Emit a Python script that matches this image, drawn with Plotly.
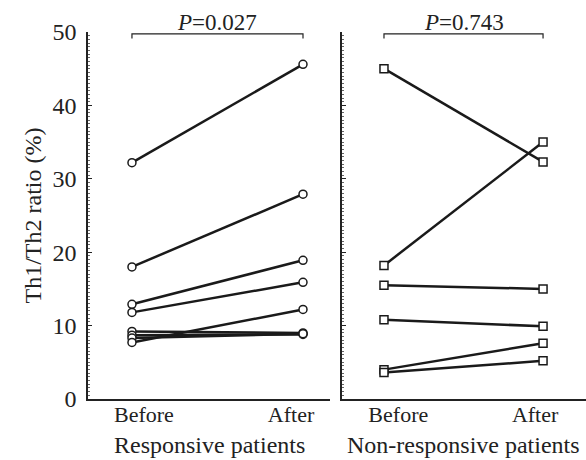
import plotly.graph_objects as go

# Data
groups = ["Before", "After"]
resp_before = [32.2, 18.0, 12.9, 11.8, 9.2, 8.7, 8.3, 7.7]
resp_after = [45.6, 27.9, 18.9, 15.9, 9.0, 8.8, 8.9, 12.2]
nonresp_before = [45.0, 18.2, 15.5, 10.8, 4.0, 3.6]
nonresp_after = [32.3, 35.0, 15.0, 9.9, 7.6, 5.2]
p_texts = ["<i>P</i>=0.027", "<i>P</i>=0.743"]
panel_titles = ["Responsive patients", "Non-responsive patients"]

FONT = "Liberation Serif, Times New Roman, serif"


def paired(before, after):
    xs, ys = [], []
    for b, a in zip(before, after):
        xs += [0, 1, None]
        ys += [b, a, None]
    return xs, ys


fig = go.Figure()

x1, y1 = paired(resp_before, resp_after)
fig.add_trace(go.Scatter(
    x=x1, y=y1, mode="lines+markers", xaxis="x", yaxis="y",
    line=dict(color="#1a1a1a", width=2.5),
    marker=dict(symbol="circle", size=8, color="white",
                line=dict(color="#1a1a1a", width=1.5)),
    showlegend=False, connectgaps=False,
))
x2, y2 = paired(nonresp_before, nonresp_after)
fig.add_trace(go.Scatter(
    x=x2, y=y2, mode="lines+markers", xaxis="x2", yaxis="y2",
    line=dict(color="#1a1a1a", width=2.5),
    marker=dict(symbol="square", size=8, color="white",
                line=dict(color="#1a1a1a", width=1.5)),
    showlegend=False, connectgaps=False,
))

axis_common = dict(showline=True, linecolor="#222", linewidth=1.5,
                   showgrid=False, zeroline=False)
yaxis_common = dict(axis_common, range=[0, 50], tickvals=[0, 10, 20, 30, 40, 50],
                    ticks="inside", ticklen=4, tickcolor="#222", tickwidth=1.2,
                    minor=dict(dtick=0.5, ticks="inside", ticklen=2,
                               tickcolor="#666", tickwidth=1))

fig.update_layout(
    width=586, height=460,
    margin=dict(l=88, r=0, t=32, b=61),
    paper_bgcolor="white", plot_bgcolor="white",
    font=dict(family=FONT, color="#222"),
    xaxis=dict(axis_common, domain=[0, 0.486], range=[-0.257, 1.158],
               tickvals=[0.07, 0.93], ticktext=groups, ticks="",
               tickfont=dict(size=22), ticklabelstandoff=-5),
    xaxis2=dict(axis_common, domain=[0.51, 1.0], range=[-0.264, 1.27],
                tickvals=[0.09, 0.95], ticktext=groups, ticks="",
                tickfont=dict(size=22), anchor="y2", ticklabelstandoff=-5),
    yaxis=dict(yaxis_common, showticklabels=True, tickfont=dict(size=24),
               ticklabelstandoff=5,
               title=dict(text="Th1/Th2 ratio (%)", font=dict(size=24), standoff=4)),
    yaxis2=dict(yaxis_common, showticklabels=False, anchor="x2"),
)

# Panel titles below the category labels
for xref, title in zip(["x domain", "x2 domain"], panel_titles):
    fig.add_annotation(x=0.5, xref=xref, y=-0.125, yref="paper",
                       text=title, showarrow=False, yanchor="middle",
                       font=dict(size=24, family=FONT))

# Brackets with P-values
for xref, txt in zip(["x", "x2"], p_texts):
    fig.add_shape(type="path", xref=xref, yref="paper",
                  path="M 0,0.982 L 0,0.995 L 1,0.995 L 1,0.982",
                  line=dict(color="#222", width=1.2))
    fig.add_annotation(x=0.5, xref=xref, y=0.995, yref="paper",
                       text=txt, showarrow=False, yanchor="bottom",
                       font=dict(size=23, family=FONT), yshift=-3)

fig.write_html("out.html", config={"displayModeBar": False},
               post_script="document.body.style.margin='0';")
